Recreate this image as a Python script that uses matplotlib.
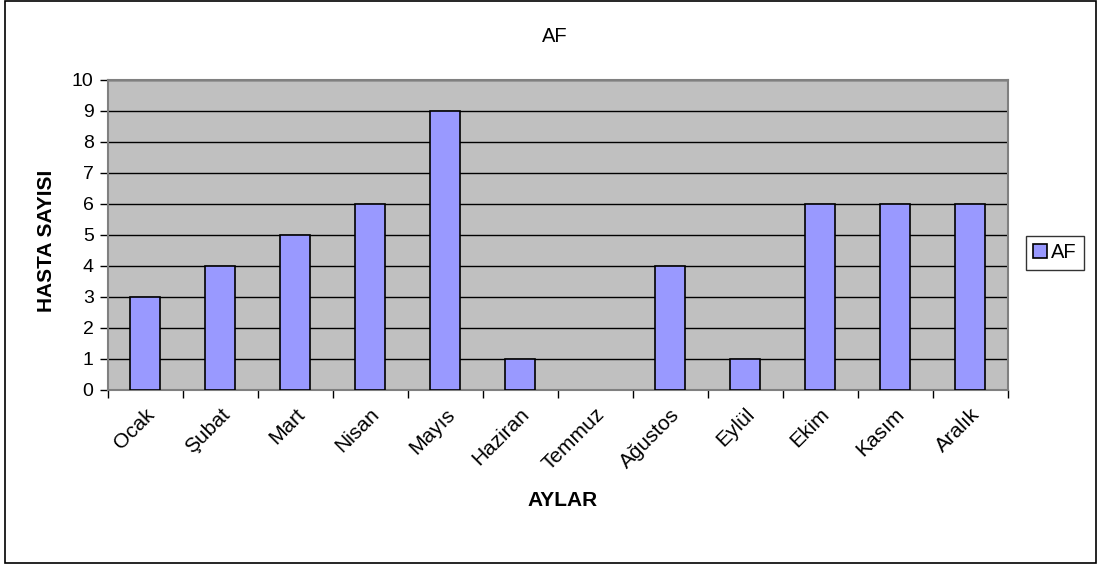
import matplotlib.pyplot as plt
from matplotlib.patches import Rectangle
import numpy as np

plt.rcParams['font.family'] = ['Liberation Sans', 'DejaVu Sans']

months = ["Ocak", "Şubat", "Mart", "Nisan", "Mayıs", "Haziran",
          "Temmuz", "Ağustos", "Eylül", "Ekim", "Kasım", "Aralık"]
af_counts = [3, 4, 5, 6, 9, 1, 0, 4, 1, 6, 6, 6]

W, H = 1099, 567
fig = plt.figure(figsize=(W / 100, H / 100), dpi=100)

# outer chart frame
fig.patches.append(Rectangle((5 / W, 1 - 563 / H), 1091 / W, 562 / H,
                             transform=fig.transFigure, fill=False,
                             edgecolor='black', linewidth=1.2))

left, right, top, bottom = 107.5, 1007.5, 79.5, 389.5
ax = fig.add_axes([left / W, 1 - bottom / H, (right - left) / W, (bottom - top) / H])
ax.set_facecolor('#C0C0C0')

x = np.arange(len(months))
# empty months get no outline
edge_widths = [1.2 if v > 0 else 0 for v in af_counts]
ax.bar(x, af_counts, width=0.4, color='#9999FF', edgecolor='black',
       linewidth=edge_widths, label='AF', zorder=3)

ax.set_xlim(-0.5, len(months) - 0.5)
ax.set_ylim(0, 10)
ax.set_yticks(range(0, 11))
ax.yaxis.grid(True, color='black', linewidth=1, zorder=1)
ax.set_axisbelow(True)

# category ticks sit between the bars
ax.set_xticks(np.arange(-0.5, len(months), 1.0))
ax.set_xticklabels([])
ax.set_xticks(x, minor=True)
ax.set_xticklabels(months, minor=True, rotation=45, ha='right',
                   rotation_mode='anchor', fontsize=15)
ax.tick_params(axis='x', which='minor', length=0, pad=11)
ax.tick_params(axis='x', which='major', length=6, width=1, color='black')
ax.tick_params(axis='y', length=6, width=1, labelsize=14, color='black', pad=4)

for side in ['top', 'right', 'left', 'bottom']:
    ax.spines[side].set_color('#808080')
    ax.spines[side].set_linewidth(1.5)

fig.text(555 / W, 1 - 37 / H, 'AF', ha='center', va='center', fontsize=14.5)
fig.text(47 / W, 1 - 241 / H, 'HASTA SAYISI', ha='center', va='center',
         rotation=90, fontsize=15, fontweight='bold')
fig.text(563 / W, 1 - 500 / H, 'AYLAR', ha='center', va='center',
         fontsize=15, fontweight='bold')

leg = fig.legend(loc='center', bbox_to_anchor=(1055 / W, 1 - 253 / H),
                 fontsize=14.5, frameon=True, fancybox=False, handlelength=0.7,
                 handleheight=0.7, handletextpad=0.2, borderpad=0.35,
                 borderaxespad=0)
leg.get_frame().set_edgecolor('black')
leg.get_frame().set_linewidth(1)

fig.savefig('out.png', dpi=100)
